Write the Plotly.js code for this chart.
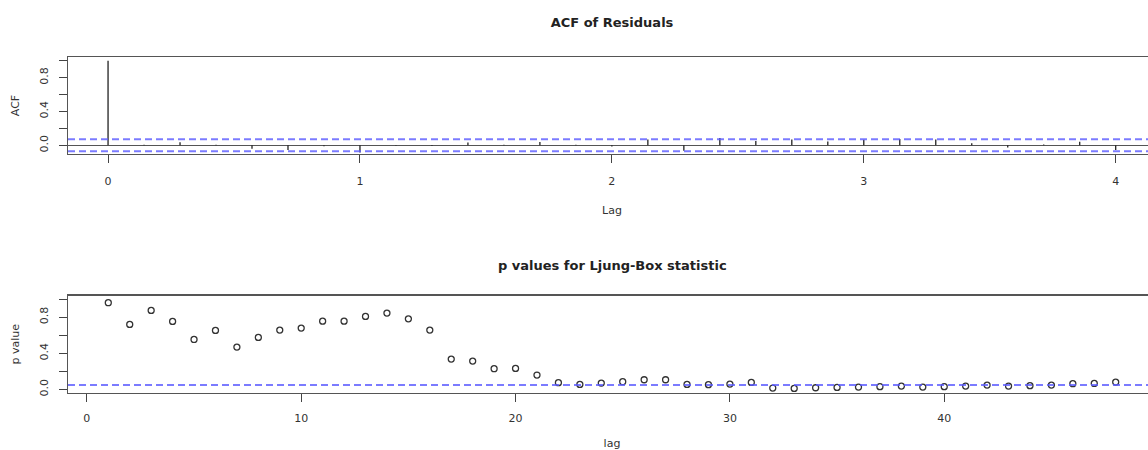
<!DOCTYPE html>
<html>
<head>
<meta charset="utf-8">
<script src="https://cdn.plot.ly/plotly-3.0.1.min.js"></script>
<style>
html, body { margin: 0; padding: 0; overflow: hidden; background: #fff; }
#chart { width: 1160px; height: 450px; }
</style>
</head>
<body>
<div id="chart"></div>
<script>
// ---- data ----
const acfLagIndex = [0,1,2,3,4,5,6,7,8,9,10,11,12,13,14,15,16,17,18,19,20,21,22,23,24,25,26,27,28];
const seasonalFrequency = 7;
const acfValues = [1.0, 0.005, 0.035, 0.005, -0.040, -0.055, -0.010, -0.085, -0.005, -0.008,
                   0.033, 0.005, 0.038, 0.005, -0.015, 0.068, -0.065, 0.087, 0.050, 0.068,
                   0.045, 0.065, 0.075, 0.068, 0.025, -0.026, 0.008, 0.043, -0.055];
const ciBound = 0.071;

const ljungLags = [1,2,3,4,5,6,7,8,9,10,11,12,13,14,15,16,17,18,19,20,21,22,23,24,
                   25,26,27,28,29,30,31,32,33,34,35,36,37,38,39,40,41,42,43,44,45,46,47,48];
const ljungPValues = [0.96, 0.72, 0.875, 0.753, 0.553, 0.653, 0.469, 0.576, 0.657, 0.679,
                      0.756, 0.756, 0.808, 0.845, 0.782, 0.657, 0.336, 0.314, 0.229, 0.232,
                      0.159, 0.074, 0.055, 0.070, 0.085, 0.107, 0.107, 0.055, 0.052, 0.059,
                      0.077, 0.015, 0.011, 0.018, 0.022, 0.026, 0.030, 0.037, 0.026, 0.030,
                      0.037, 0.048, 0.037, 0.041, 0.048, 0.063, 0.066, 0.081];
const pThreshold = 0.05;

const yTickVals = [0, 0.2, 0.4, 0.6, 0.8, 1.0];
const yTickText = ['0.0', '', '0.4', '', '0.8', ''];
const acfXTicks = [0, 1, 2, 3, 4];
const ljungXTicks = [0, 10, 20, 30, 40];

// ---- build traces ----
const segX = [], segY = [];
acfLagIndex.forEach((k, i) => {
  const x = k / seasonalFrequency;
  segX.push(x, x, null);
  segY.push(0, acfValues[i], null);
});

const font = 'DejaVu Sans, Arial, sans-serif';
const ink = '#333';
const ciColor = 'rgba(90,90,255,0.8)';

const traces = [
  {
    type: 'scatter', mode: 'lines', x: segX, y: segY,
    line: {color: '#222', width: 1.3}, xaxis: 'x', yaxis: 'y',
    hoverinfo: 'skip', showlegend: false
  },
  {
    type: 'scatter', mode: 'markers', x: ljungLags, y: ljungPValues,
    marker: {symbol: 'circle-open', size: 6, color: ink, line: {width: 1.3, color: ink}},
    xaxis: 'x2', yaxis: 'y2', showlegend: false
  }
];

const commonAxis = {
  showgrid: false, showline: true, mirror: true, linecolor: '#555', linewidth: 1.3,
  ticks: 'outside', ticklen: 8, tickcolor: '#444', tickwidth: 1,
  tickfont: {family: font, size: 11, color: ink}
};

const layout = {
  width: 1160, height: 450,
  margin: {l: 68, r: 4, t: 0, b: 0},
  paper_bgcolor: '#fff', plot_bgcolor: '#fff',
  showlegend: false,
  title: {
    text: '<b>ACF of Residuals</b>', font: {family: font, size: 13, color: '#222'},
    xref: 'paper', x: 0.5, xanchor: 'center', yref: 'container', y: 1 - 22/450, yanchor: 'middle'
  },
  xaxis: Object.assign({}, commonAxis, {
    anchor: 'y', domain: [0, 1], range: [-0.159, 4.16], zeroline: false,
    tickvals: acfXTicks, ticktext: acfXTicks.map(String), ticklabelstandoff: 8,
    title: {text: 'Lag', font: {family: font, size: 11, color: ink}, standoff: 19}
  }),
  yaxis: Object.assign({}, commonAxis, {
    anchor: 'x', domain: [1 - 154/450, 1 - 57/450], range: [-0.103, 1.043],
    zeroline: true, zerolinecolor: '#555', zerolinewidth: 1,
    tickvals: yTickVals, ticktext: yTickText, tickangle: -90, ticklabelstandoff: 6,
    title: {text: 'ACF', font: {family: font, size: 11, color: ink}, standoff: 16}
  }),
  xaxis2: Object.assign({}, commonAxis, {
    anchor: 'y2', domain: [0, 1], range: [-0.88, 49.88], zeroline: false,
    tickvals: ljungXTicks, ticktext: ljungXTicks.map(String), ticklabelstandoff: 6,
    title: {text: 'lag', font: {family: font, size: 11, color: ink}, standoff: 19}
  }),
  yaxis2: Object.assign({}, commonAxis, {
    anchor: 'x2', domain: [1 - 393/450, 1 - 295.5/450], range: [-0.04, 1.04],
    zeroline: false,
    tickvals: yTickVals, ticktext: yTickText, tickangle: -90, ticklabelstandoff: 6,
    title: {text: 'p value', font: {family: font, size: 11, color: ink}, standoff: 16}
  }),
  shapes: [
    {type: 'line', xref: 'x domain', yref: 'y', x0: 0, x1: 1, y0: ciBound, y1: ciBound,
     line: {color: ciColor, width: 2, dash: '7px,4px'}},
    {type: 'line', xref: 'x domain', yref: 'y', x0: 0, x1: 1, y0: -ciBound, y1: -ciBound,
     line: {color: ciColor, width: 2, dash: '7px,4px'}},
    {type: 'line', xref: 'x2 domain', yref: 'y2', x0: 0, x1: 1, y0: pThreshold, y1: pThreshold,
     line: {color: ciColor, width: 2, dash: '7px,4px'}}
  ],
  annotations: [
    {text: '<b>p values for Ljung-Box statistic</b>', showarrow: false,
     xref: 'paper', x: 0.5, xanchor: 'center', yref: 'paper', y: 1 - 265/450, yanchor: 'middle',
     font: {family: font, size: 13, color: '#222'}}
  ]
};

Plotly.newPlot('chart', traces, layout, {displayModeBar: false, staticPlot: true});
</script>
</body>
</html>
